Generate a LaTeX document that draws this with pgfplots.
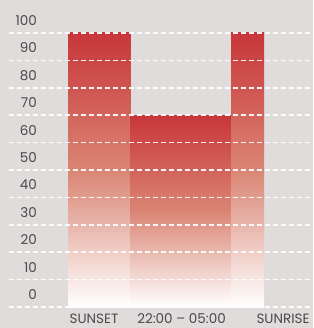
\documentclass[border=0pt]{standalone}
\usepackage{pgfplots}
\pgfplotsset{compat=1.18}
\usepackage{fontspec}
\setmainfont{Poppins}
\definecolor{bg}{HTML}{DFDCDB}
\definecolor{barred}{HTML}{C8363A}
\definecolor{barmid}{HTML}{DA8574}
\definecolor{txt}{HTML}{4A4A4A}
\begin{document}
\begin{tikzpicture}
\begin{axis}[
  x=1pt, y=2.74pt,
  xmin=0, xmax=313, ymin=-7.664, ymax=112.044,
  axis line style={draw=none},
  axis background/.style={fill=bg},
  major tick length=0pt,
  ytick={0,10,20,30,40,50,60,70,80,90,100},
  yticklabel style={anchor=east, inner sep=0pt, xshift=37pt, yshift=12.5pt, text=txt, font=\fontsize{13.5}{15}\selectfont},
  xtick={94,181.5,283},
  xticklabels={SUNSET, 22:00 -- 05:00, SUNRISE},
  xticklabel style={anchor=center, inner sep=0pt, yshift=9pt, text=txt, font=\fontsize{13.5}{15}\selectfont},
  /pgf/number format/assume math mode=true,
]
\addplot[draw=none, top color=barred, bottom color=white, middle color=barmid] coordinates {(68,0) (130.5,0) (130.5,100) (68,100)} -- cycle;
\addplot[draw=none, top color=barred, bottom color=white, middle color=barmid] coordinates {(130.5,0) (231,0) (231,70) (130.5,70)} -- cycle;
\addplot[draw=none, top color=barred, bottom color=white, middle color=barmid] coordinates {(231,0) (264,0) (264,100) (231,100)} -- cycle;
\pgfplotsinvokeforeach{0,10,20,30,40,50,60,70,80,90,100}{
  \draw[white, opacity=0.95, line width=1.6pt, dash pattern=on 5pt off 3pt] (axis cs:9,#1) -- (axis cs:313,#1);
}
\end{axis}
\pgfresetboundingbox
\path (0,0) rectangle (313pt,328pt);
\end{tikzpicture}
\end{document}
